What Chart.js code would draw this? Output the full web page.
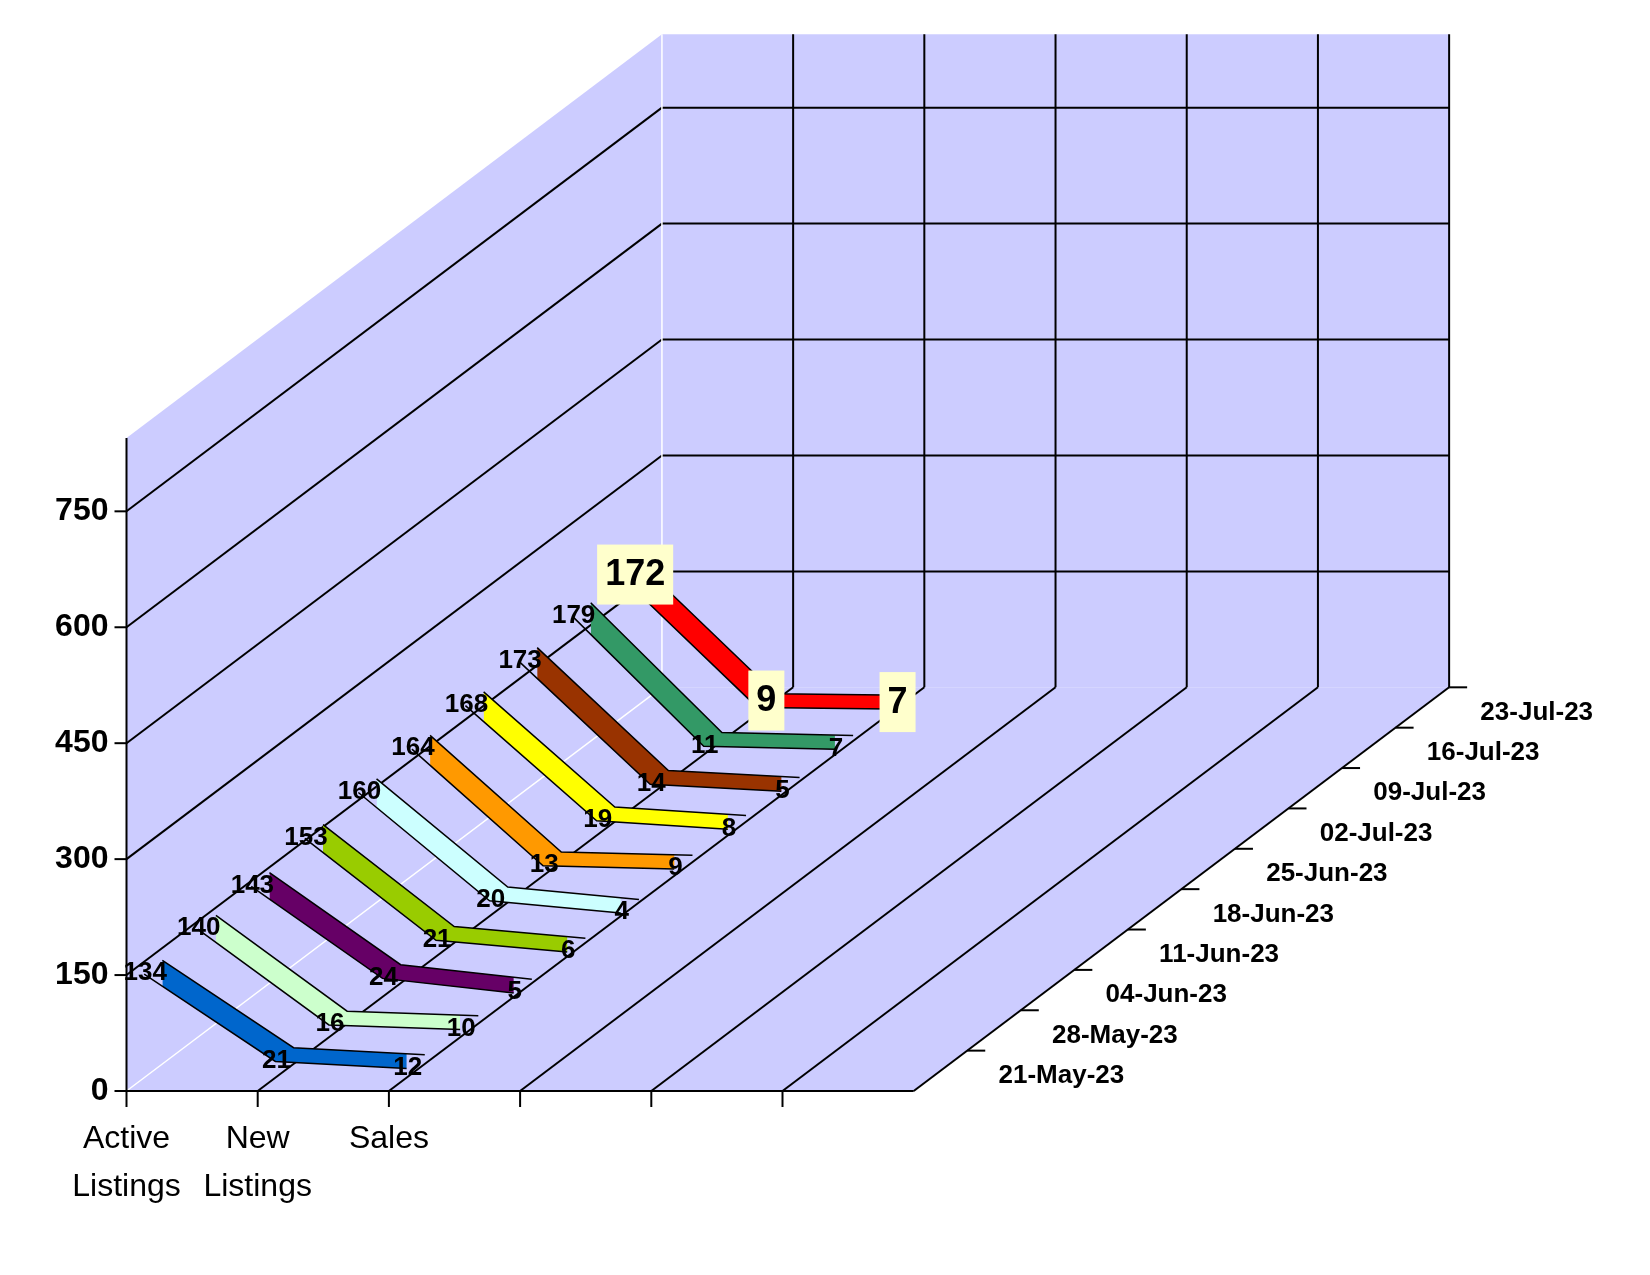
<!DOCTYPE html>
<html><head><meta charset="utf-8">
<script src="https://cdn.jsdelivr.net/npm/chart.js@4"></script>
<style>html,body{margin:0;padding:0;background:#fff}canvas{display:block}</style>
</head><body>
<canvas id="c" width="1650" height="1275"></canvas>
<script>
const categories = ['Active Listings','New Listings','Sales'];
const dates = ['21-May-23','28-May-23','04-Jun-23','11-Jun-23','18-Jun-23','25-Jun-23','02-Jul-23','09-Jul-23','16-Jul-23','23-Jul-23'];
const activeListings = [134,140,143,153,160,164,168,173,179,172];
const newListings = [21,16,24,21,20,13,19,14,11,9];
const sales = [12,10,5,6,4,9,8,5,7,7];
const yTicks = [0,150,300,450,600,750];
const colors = ['#0066cc','#ccffcc','#660066','#99cc00','#ccffff','#ff9900','#ffff00','#993300','#339966','#ff0000'];

// projection geometry
const K = 1.054;
const G = {x0:126.5, y0:1091, cat:131.2, vs:0.7333*K, dx:50.8*K, dy:38.3*K, slots:6, depth:10, vmax:845};
function P(c, v, d){ return {x:G.x0 + c*G.cat + d*G.dx, y:G.y0 - v*G.vs - d*G.dy}; }

const series = dates.map((d,i)=>[activeListings[i], newListings[i], sales[i]]);
const datasets = [];
for (let s=0; s<dates.length; s++){
  const vals = series[s];
  datasets.push({data: vals.map((v,c)=>P(c,v,s+0.33)), borderColor:'#000', borderWidth:1.5, pointRadius:0, fill:false, tension:0});
  datasets.push({data: vals.map((v,c)=>P(c,v,s+0.67)), borderColor:'#000', borderWidth:1.5, pointRadius:0, fill:'-1', backgroundColor:colors[s], tension:0});
}

const F = 'Arial, "Liberation Sans", sans-serif';
const scene = {
  id:'scene',
  beforeDatasetsDraw(chart){
    const ctx = chart.ctx, X = chart.scales.x, Y = chart.scales.y;
    const px = p => [X.getPixelForValue(p.x), Y.getPixelForValue(p.y)];
    const poly = (pts, fill) => { ctx.beginPath(); pts.forEach((p,i)=>{const q=px(p); i?ctx.lineTo(q[0],q[1]):ctx.moveTo(q[0],q[1]);}); ctx.closePath(); ctx.fillStyle=fill; ctx.fill(); };
    const line = (a,b,col,w) => { const p=px(a),q=px(b); ctx.beginPath(); ctx.moveTo(p[0],p[1]); ctx.lineTo(q[0],q[1]); ctx.strokeStyle=col; ctx.lineWidth=w; ctx.stroke(); };
    const W='#ccccff', D=G.depth, S=G.slots, M=G.vmax;
    poly([P(0,0,0),P(0,M,0),P(0,M,D),P(0,0,D)], W);
    poly([P(0,0,D),P(0,M,D),P(S,M,D),P(S,0,D)], W);
    poly([P(0,0,0),P(S,0,0),P(S,0,D),P(0,0,D)], W);
    ctx.save();
    for (const v of yTicks.slice(1)){ line(P(0,v,0),P(0,v,D),'#000',2); line(P(0,v,D),P(S,v,D),'#000',2); }
    for (let c=1;c<=S;c++){ line(P(c,0,0),P(c,0,D),'#000',2); line(P(c,0,D),P(c,M,D),'#000',2); }
    line(P(0,0,D),P(0,M,D),'#fff',1.5);
    line(P(0,0,0),P(0,0,D),'#fff',1.5);
    line(P(0,0,0),P(0,M,0),'#000',2);
    line(P(0,0,0),P(S,0,0),'#000',2);
    ctx.fillStyle='#000'; ctx.font='bold 32px '+F; ctx.textAlign='right'; ctx.textBaseline='middle';
    for (const v of yTicks){ const p=px(P(0,v,0)); line({x:P(0,v,0).x-12,y:P(0,v,0).y},P(0,v,0),'#000',2); ctx.fillText(String(v), p[0]-18, p[1]); }
    ctx.font='32px '+F; ctx.textAlign='center';
    for (let c=0;c<S;c++){ const b=P(c,0,0); line(b,{x:b.x,y:b.y+16},'#000',2); }
    categories.forEach((t,c)=>{ const p=px(P(c,0,0)); const parts=t.split(' '); ctx.fillText(parts[0],p[0],p[1]+48); if(parts[1]) ctx.fillText(parts[1],p[0],p[1]+96); });
    ctx.font='bold 26px '+F; ctx.textAlign='left';
    dates.forEach((t,i)=>{ const a=P(S,0,i+1); line(a,{x:a.x+18,y:a.y},'#000',2); const p=px(P(S,0,i+0.5)); ctx.fillText(t,p[0]+58,p[1]+5); });
    ctx.restore();
  },
  afterDatasetsDraw(chart){
    const ctx = chart.ctx, X = chart.scales.x, Y = chart.scales.y;
    ctx.save(); ctx.textAlign='center'; ctx.textBaseline='middle';
    for (let s=0;s<dates.length;s++){
      series[s].forEach((v,c)=>{
        const p=P(c,v,s+0.5); const x=X.getPixelForValue(p.x), y=Y.getPixelForValue(p.y);
        if (s===dates.length-1){
          ctx.font='bold 36px '+F;
          const w=ctx.measureText(String(v)).width+16;
          ctx.fillStyle='#ffffcc'; ctx.fillRect(x-w/2,y-30,w,60);
          ctx.fillStyle='#000'; ctx.fillText(String(v),x,y+1);
        } else {
          ctx.font='bold 26px '+F; ctx.fillStyle='#000';
          ctx.fillText(String(v),x-8,y+6);
        }
      });
    }
    ctx.restore();
  }
};

new Chart(document.getElementById('c'), {
  type:'line',
  data:{datasets},
  options:{
    responsive:false, animation:false, devicePixelRatio:1,
    layout:{padding:0},
    scales:{
      x:{type:'linear', min:0, max:1650, display:false},
      y:{type:'linear', min:0, max:1275, reverse:true, display:false}
    },
    plugins:{legend:{display:false}, tooltip:{enabled:false}}
  },
  plugins:[scene]
});
</script>
</body></html>
